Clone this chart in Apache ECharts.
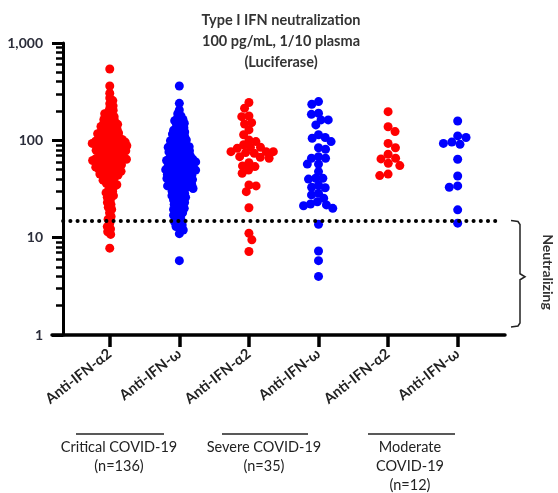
<!DOCTYPE html>
<html>
<head>
<meta charset="utf-8">
<script src="https://cdn.jsdelivr.net/npm/echarts@6/dist/echarts.min.js"></script>
<style>
  html, body { margin: 0; padding: 0; background: #fff; }
  #chart { width: 558px; height: 493px; }
</style>
</head>
<body>
<div id="chart"></div>
<script>
// categories on the x axis
const cats = ['Anti-IFN-α2', 'Anti-IFN-ω', 'Anti-IFN-α2', 'Anti-IFN-ω', 'Anti-IFN-α2', 'Anti-IFN-ω'];
const colors = ['#ff0000', '#0000ff', '#ff0000', '#0000ff', '#ff0000', '#0000ff'];

// luciferase values
const criticalA2 = [540, 362, 305, 272, 256, 238, 226, 214, 204,
  196, 188, 181, 175, 169, 164, 160,
  156, 152, 149, 146, 142, 139, 136, 133, 130, 127,
  125, 123, 121, 119, 117, 115, 113, 111, 109, 107, 105, 104, 103, 102, 101,
  99, 98, 97, 96, 95, 94, 93, 92, 91, 90, 89, 88, 87, 86, 85, 84, 83, 82, 81, 80,
  79, 78, 77, 76, 75, 74, 73, 72, 71, 70, 69, 68, 67, 66, 65.5, 65, 64.5, 64, 63.5,
  62.5, 62, 61, 60, 59, 58, 57, 56.5, 56, 55, 54, 53, 52.5, 52, 51, 50.5, 50,
  49, 48, 47.5, 47, 46, 45, 44.5, 44, 43, 42, 41, 40.5,
  39, 38, 37, 36, 35, 34, 33,
  31, 30, 29, 28, 27, 26,
  24.5, 23, 22, 20.5, 19.5, 18, 16.5, 15.5, 14, 13, 12.3, 11.5, 10.8, 7.8];
const criticalW = [362, 240, 205, 188, 178, 170, 164, 159,
  155, 150, 145, 140, 135, 131, 127,
  125, 122, 119, 116, 113, 110, 107, 105, 103, 101,
  99, 97, 95, 93, 91, 89, 88, 86, 85, 83, 82, 81, 80,
  78, 77, 76, 75, 74, 72, 71, 70, 69, 68, 67, 66, 65, 64, 63.5,
  62.5, 62, 61, 60.5, 60, 59, 58, 57, 56.5, 56, 55, 54, 53, 52.5, 52, 51, 50.5, 50,
  49.5, 49, 48, 47, 46.5, 46, 45, 44.5, 44, 43, 42.5, 42, 41.5, 41, 40.5, 40,
  39.5, 39, 38.5, 38, 37, 36.5, 36, 35.5, 35, 34.5, 34, 33.5, 33, 32.5, 32,
  31.5, 31, 30, 29, 28.5, 28, 27, 26.5, 26, 25,
  24.5, 24, 23, 22.5, 22, 21, 20.5, 20,
  19.5, 19, 18, 17.5, 17, 16.5, 15.5, 15, 14.5, 14, 13.5, 13, 12.5, 12, 11, 5.8];
const severeA2 = [245, 214, 178, 175, 152, 147, 128, 114, 101, 97, 90, 85, 83, 85,
  76.5, 73.6, 76.5, 74.8, 76.5, 67, 65.5, 68, 53.7, 54.6, 59, 49.6, 45.9,
  34.8, 34, 29.7, 20.3, 11.1, 9.5, 7.2];
const severeW = [250, 235, 190, 162, 162, 185, 144, 97, 107, 105, 114, 84, 81,
  65.5, 65.5, 68, 57, 57, 47.7, 40.8, 40.8, 40, 34.7, 32.6, 33, 28.6, 25.4,
  27.5, 23.4, 22.2, 20, 21.3, 21.7, 13.7, 7.3, 5.8, 4.0];
const moderateA2 = [197, 138, 123, 93, 84, 72, 65.5, 64.4, 58, 55, 45, 43.4];
const moderateW = [158, 111, 107, 96, 93, 91, 64, 43, 34, 33, 19.3, 14.1];

const groups = [criticalA2, criticalW, severeA2, severeW, moderateA2, moderateW];
// spacing used by the swarm layout (px) per column
const gaps = [4.0, 4.0, 7.2, 7.2, 8.5, 8.5];

const yMinor = [2, 3, 4, 5, 6, 7, 8, 9, 20, 30, 40, 50, 60, 70, 80, 90, 200, 300, 400, 500, 600, 700, 800, 900];
const threshold = 15;

const font = 'Lato, "Open Sans", sans-serif';
const chart = echarts.init(document.getElementById('chart'), null, { renderer: 'canvas' });

const yBase = {
  type: 'log', logBase: 10, min: 1, max: 1000, offset: -11, position: 'left',
  splitLine: { show: false }
};

const option = {
  animation: false,
  grid: { left: 52, right: 53, top: 43, bottom: 158 },
  xAxis: {
    type: 'value', min: 0.17, max: 6.68,
    splitLine: { show: false },
    axisLine: { show: true, lineStyle: { color: '#000', width: 3.5 } },
    axisTick: { show: true, customValues: [1, 2, 3, 4, 5, 6], length: 12, lineStyle: { color: '#000', width: 3.5 } },
    axisLabel: {
      customValues: [1, 2, 3, 4, 5, 6],
      formatter: v => cats[Math.round(v) - 1],
      rotate: 38, margin: 17,
      color: '#222', fontWeight: 'bold', fontSize: 14.5, fontFamily: font
    }
  },
  yAxis: [
    Object.assign({}, yBase, {
      axisLine: { show: true, lineStyle: { color: '#000', width: 3 } },
      axisTick: { show: true, length: 11, lineStyle: { color: '#000', width: 3 } },
      axisLabel: {
        margin: 20, color: '#2b2d3a', fontWeight: 'bold', fontSize: 14, fontFamily: font,
        formatter: v => Number(v).toLocaleString('en-US')
      }
    }),
    Object.assign({}, yBase, {
      axisLine: { show: false },
      axisTick: { show: true, customValues: yMinor, length: 7, lineStyle: { color: '#000', width: 2.5 } },
      axisLabel: { show: false }
    })
  ],
  series: groups.map((g, i) => ({
    type: 'scatter',
    symbolSize: 9,
    itemStyle: { color: colors[i], opacity: 1 },
    data: g.map(v => [i + 1, v]),
    z: 3
  }))
};
option.series[0].markLine = {
  silent: true, symbol: 'none', animation: false,
  label: { show: false },
  lineStyle: { color: '#000', width: 4, type: [0.1, 7.1], cap: 'round' },
  data: [[{ coord: [0.33, threshold] }, { coord: [6.63, threshold] }]],
  z: 5
};
chart.setOption(option);

// beeswarm: each dot goes to the free spot closest to its column centre
const px = p => chart.convertToPixel({ gridIndex: 0 }, p);
const unit = px([2, 1])[0] - px([1, 1])[0];
function swarm(values, centre, gap) {
  const placed = [];
  const order = values.map((v, i) => i).sort((a, b) => values[b] - values[a]);
  const out = [];
  order.forEach((i, k) => {
    const y = px([centre, values[i]])[1];
    const cands = [0];
    placed.forEach(p => {
      const dy = Math.abs(p.y - y);
      if (dy < gap) {
        const dx = Math.sqrt(gap * gap - dy * dy);
        cands.push(p.x + dx, p.x - dx);
      }
    });
    const sgn = k % 2 ? 1 : -1;
    cands.sort((a, b) => (Math.abs(a) - Math.abs(b)) || (sgn * (a - b)));
    const x = cands.find(c => placed.every(p => (p.x - c) ** 2 + (p.y - y) ** 2 >= gap * gap - 0.01));
    placed.push({ x, y });
    out.push([centre + x / unit, values[i]]);
  });
  return out;
}
chart.setOption({ series: groups.map((g, i) => ({ data: swarm(g, i + 1, gaps[i]) })) });

// annotations: title, group labels, bracket
const braceTop = px([6.63, threshold])[1];
const braceBot = px([6.63, 1])[1] - 8;
const braceMid = (braceTop + braceBot) / 2 + 3;
const txt = (text, x, y, size, weight, extra) => ({
  type: 'text', x, y,
  style: Object.assign({ text, fontSize: size, fontWeight: weight, fontFamily: font, fill: '#222',
    align: 'center', verticalAlign: 'middle', lineHeight: 20 }, extra || {})
});
const bar = (x1, x2, y) => ({ type: 'line', shape: { x1, y1: y, x2, y2: y }, style: { stroke: '#222', lineWidth: 1.5 } });
chart.setOption({
  graphic: [
    txt('Type I IFN neutralization', 281, 20, 14.5, 'bold', { fill: '#333' }),
    txt('100 pg/mL, 1/10 plasma', 281, 41, 14.5, 'bold', { fill: '#333' }),
    txt('(Luciferase)', 281, 62, 14.5, 'bold', { fill: '#333' }),
    bar(76, 164, 434), bar(222, 308, 434), bar(368, 455, 434),
    txt('Critical COVID-19', 119, 447, 14.5, 'normal'),
    txt('(n=136)', 119, 466, 14.5, 'normal'),
    txt('Severe COVID-19', 264, 447, 14.5, 'normal'),
    txt('(n=35)', 264, 466, 14.5, 'normal'),
    txt('Moderate', 410, 447, 14.5, 'normal'),
    txt('COVID-19', 410, 466, 14.5, 'normal'),
    txt('(n=12)', 410, 485, 14.5, 'normal'),
    {
      type: 'polyline',
      shape: { points: [[511, braceTop], [518, braceTop + 1], [520, braceTop + 4], [520, braceMid - 3], [525, braceMid], [520, braceMid + 3], [520, braceBot - 4], [518, braceBot - 1], [511, braceBot]] },
      style: { stroke: '#222', lineWidth: 1.5, fill: null }
    },
    Object.assign(txt('Neutralizing', 548, 272, 14, 'bold', { fill: '#333' }), { rotation: -Math.PI / 2 })
  ]
});
</script>
</body>
</html>
